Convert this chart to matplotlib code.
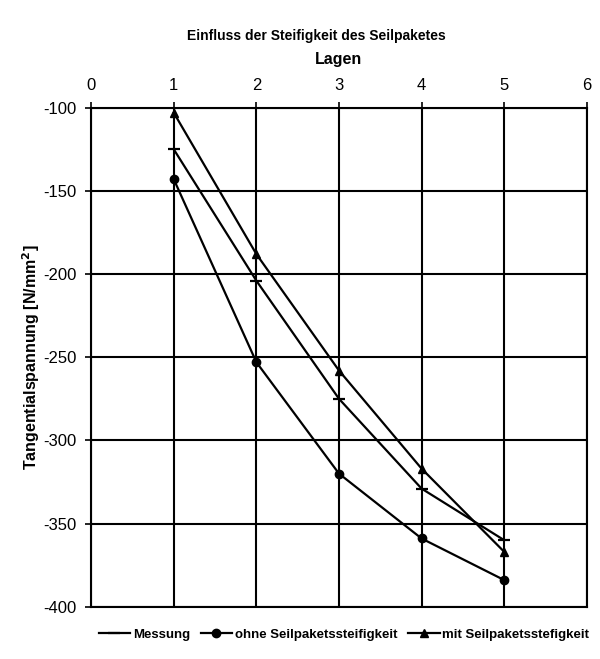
import matplotlib
matplotlib.use('Agg')
import matplotlib.pyplot as plt

plt.rcParams['font.family'] = ['Liberation Sans', 'DejaVu Sans']
plt.rcParams['axes.unicode_minus'] = False

lagen = [1, 2, 3, 4, 5]
messung = [-125, -204, -275, -329, -360]
ohne = [-143, -253, -320, -359, -384]
mit = [-103, -188, -258, -317, -367]

fig = plt.figure(figsize=(6.0, 6.59), dpi=100)
ax = fig.add_axes([0.152, 0.0794, 0.826, 0.757])

ax.plot(lagen, messung, color='black', lw=1.6, marker='_', ms=9, mew=1.6, label='Messung')
ax.plot(lagen, ohne, color='black', lw=1.6, marker='o', ms=6, label='ohne Seilpaketssteifigkeit')
ax.plot(lagen, mit, color='black', lw=1.6, marker='^', ms=6, label='mit Seilpaketsstefigkeit')

ax.set_xlim(0, 6)
ax.set_ylim(-400, -100)
ax.set_xticks(range(0, 7))
ax.set_yticks(range(-400, -99, 50))
ax.xaxis.tick_top()
ax.xaxis.set_label_position('top')
ax.tick_params(axis='both', direction='out', length=4.5, width=1.2, labelsize=12, color='black')
ax.tick_params(axis='y', pad=6)
ax.tick_params(axis='x', pad=6)
ax.grid(True, color='black', lw=1.5)
for s in ax.spines.values():
    s.set_linewidth(1.5)

ax.set_xlabel('Lagen', fontsize=11.5, fontweight='bold', labelpad=10)
ax.set_ylabel('Tangentialspannung [N/mm$^\\mathbf{2}$]', fontsize=11.5, fontweight='bold', labelpad=1)
fig.text(0.527, 0.945, 'Einfluss der Steifigkeit des Seilpaketes', ha='center', va='center',
         fontsize=10, fontweight='bold')

leg = ax.legend(loc='upper center', bbox_to_anchor=(0.51, -0.02), ncol=3, frameon=False,
                prop={'weight': 'bold', 'size': 9.5}, handlelength=2.4, handletextpad=0.2,
                columnspacing=0.8)

fig.savefig('out.png', dpi=100, facecolor='white')
